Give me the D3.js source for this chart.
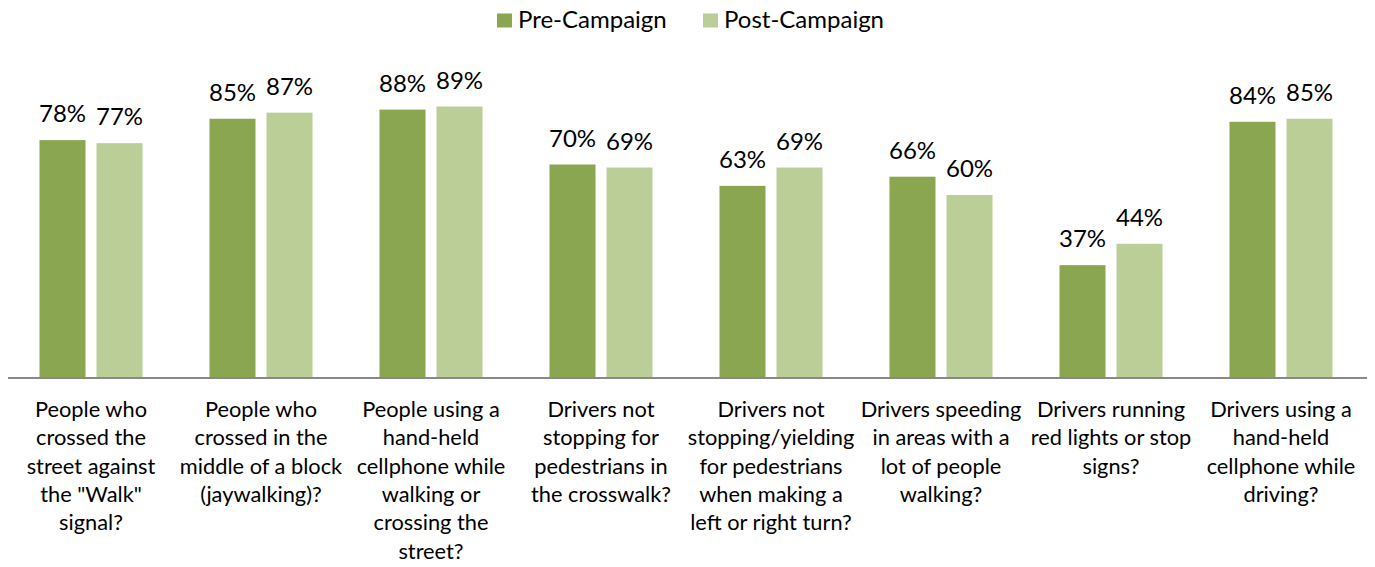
<!DOCTYPE html>
<html>
<head>
<meta charset="utf-8">
<script src="https://cdn.jsdelivr.net/npm/d3@7"></script>
<style>
  html, body { margin: 0; padding: 0; background: #fff; }
  svg { display: block; font-family: Lato, "Open Sans", sans-serif; }
</style>
</head>
<body>
<svg id="chart" width="1375" height="567"></svg>
<script>
const categories = [
  'People who crossed the street against the "Walk" signal?',
  'People who crossed in the middle of a block (jaywalking)?',
  'People using a hand-held cellphone while walking or crossing the street?',
  'Drivers not stopping for pedestrians in the crosswalk?',
  'Drivers not stopping/yielding for pedestrians when making a left or right turn?',
  'Drivers speeding in areas with a lot of people walking?',
  'Drivers running red lights or stop signs?',
  'Drivers using a hand-held cellphone while driving?'
];
const categoryLines = [
  ['People who', 'crossed the', 'street against', 'the "Walk"', 'signal?'],
  ['People who', 'crossed in the', 'middle of a block', '(jaywalking)?'],
  ['People using a', 'hand-held', 'cellphone while', 'walking or', 'crossing the', 'street?'],
  ['Drivers not', 'stopping for', 'pedestrians in', 'the crosswalk?'],
  ['Drivers not', 'stopping/yielding', 'for pedestrians', 'when making a', 'left or right turn?'],
  ['Drivers speeding', 'in areas with a', 'lot of people', 'walking?'],
  ['Drivers running', 'red lights or stop', 'signs?'],
  ['Drivers using a', 'hand-held', 'cellphone while', 'driving?']
];
const seriesNames = ['Pre-Campaign', 'Post-Campaign'];
const preCampaign  = [78, 85, 88, 70, 63, 66, 37, 84];
const postCampaign = [77, 87, 89, 69, 69, 60, 44, 85];
const seriesColors = ['#8ba650', '#bbce97'];

const svg = d3.select('#chart');
const baseY = 378;

const x0 = d3.scaleBand().domain(categories).range([6, 1366])
  .paddingInner(0.394).paddingOuter(0.197);
const x1 = d3.scaleBand().domain(seriesNames).range([0, x0.bandwidth()])
  .paddingInner(0.193).paddingOuter(0);
const y = d3.scaleLinear().domain([0, 100]).range([baseY, 73]);
const color = d3.scaleOrdinal().domain(seriesNames).range(seriesColors);

const data = categories.map((c, i) => ({
  cat: c,
  values: [
    { s: seriesNames[0], v: preCampaign[i] },
    { s: seriesNames[1], v: postCampaign[i] }
  ]
}));

const groups = svg.append('g').selectAll('g').data(data).join('g')
  .attr('transform', d => `translate(${x0(d.cat)},0)`);

groups.selectAll('rect').data(d => d.values).join('rect')
  .attr('x', d => x1(d.s))
  .attr('y', d => y(d.v))
  .attr('width', x1.bandwidth())
  .attr('height', d => y(0) - y(d.v))
  .attr('fill', d => color(d.s));

groups.selectAll('text.val').data(d => d.values).join('text')
  .attr('class', 'val')
  .attr('x', d => x1(d.s) + x1.bandwidth() / 2)
  .attr('y', d => y(d.v) - 18)
  .attr('text-anchor', 'middle')
  .attr('font-size', 24)
  .attr('fill', '#000')
  .text(d => d.v + '%');

// x axis
const xAxis = d3.axisBottom(x0).tickSize(0).tickFormat('');
const axisG = svg.append('g').attr('transform', `translate(0,${baseY})`).call(xAxis);
axisG.select('.domain').attr('stroke', '#898989').attr('stroke-width', 2)
  .attr('d', 'M8,0H1367');

// category labels
const lineH = 28.3;
categories.forEach((c, i) => {
  const cx = x0(c) + x0.bandwidth() / 2;
  const t = svg.append('text')
    .attr('text-anchor', 'middle')
    .attr('font-size', 21.8)
    .attr('fill', '#000')
    .attr('x', cx)
    .attr('y', 417);
  categoryLines[i].forEach((ln, j) => {
    t.append('tspan').attr('x', cx).attr('y', 417 + j * lineH).text(ln);
  });
});

// legend
const legendX = [497, 703];
const leg = svg.append('g');
seriesNames.forEach((s, i) => {
  leg.append('rect').attr('x', legendX[i]).attr('y', 13.5).attr('width', 15).attr('height', 14)
    .attr('fill', color(s));
  leg.append('text').attr('x', legendX[i] + 21).attr('y', 28)
    .attr('font-size', 24).attr('fill', '#000').text(s);
});
</script>
</body>
</html>
